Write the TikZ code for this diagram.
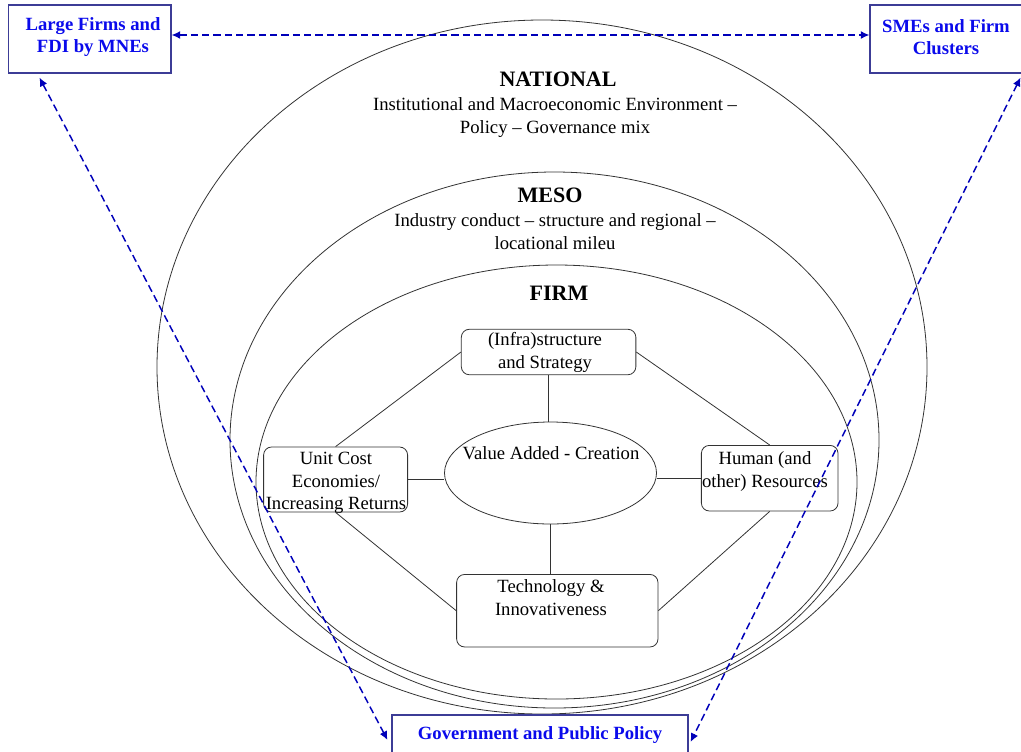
\documentclass[tikz,border=0pt]{standalone}
\usepackage{fontspec}
\setmainfont{Liberation Serif}
\usepackage{xcolor}
\usetikzlibrary{shapes.geometric,arrows.meta}

\definecolor{actorblue}{RGB}{10,10,235}
\definecolor{frameblue}{RGB}{60,60,150}
\definecolor{linkblue}{RGB}{0,0,185}

\begin{document}
\begin{tikzpicture}[x=0.75pt,y=-0.75pt,font=\fontsize{14}{16.5}\selectfont,
    level/.style={ellipse,draw=black!80,line width=0.6pt,inner sep=0pt},
    block/.style={draw=black!80,line width=0.6pt,rounded corners=6pt,align=center,inner sep=0pt},
    actor/.style={draw=frameblue,line width=0.8pt,text=actorblue,align=center,font=\fontsize{14}{16.5}\selectfont\bfseries},
    head/.style={font=\fontsize{16.5}{19}\selectfont\bfseries,inner sep=0pt},
    caption/.style={align=center,inner sep=0pt,font=\fontsize{14}{17.25}\selectfont},
    boxtxt/.style={align=center,inner sep=0pt,font=\fontsize{14}{16.75}\selectfont},
    spoke/.style={draw=black!80,line width=0.6pt},
    link/.style={linkblue,line width=1.1pt,dash pattern=on 5.5pt off 3pt,{Latex[length=6.5pt,width=6pt]}-{Latex[length=6.5pt,width=6pt]}}]

    \useasboundingbox (0,0) rectangle (1021,751);
    \clip (0,0) rectangle (1021,751);

    % The levels
	\node [level,minimum width=577.5pt,minimum height=520.5pt] at (542,367) (national) {};
	\node [level,minimum width=486.75pt,minimum height=402pt] at (554.5,440) (meso) {};
	\node [level,minimum width=450.75pt,minimum height=325.5pt] at (556.5,482) (firm) {};

	\node [head] at (558,79) (nationalhead) {NATIONAL};
	\node [caption] at (555,117.5) (nationaltxt) {Institutional and Macroeconomic Environment --\\Policy -- Governance mix};
	\node [head] at (550,195) (mesohead) {MESO};
	\node [caption] at (555,231.5) (mesotxt) {Industry conduct -- structure and regional --\\locational mileu};
	\node [head] at (559,293) (firmhead) {FIRM};

    % The firm diamond
	\node [level,minimum width=159pt,minimum height=76.5pt] at (550.5,473) (va) {};
	\node [caption] at (551,453) (vatxt) {Value Added - Creation};

	\node [block,minimum width=130.9pt,minimum height=34.1pt] at (548.6,352) (infra) {};
	\node [boxtxt] at (545,352.5) (infratxt) {(Infra)structure\\and Strategy};
	\node [block,minimum width=108pt,minimum height=48.75pt] at (335.6,479.5) (unit) {};
	\node [boxtxt] at (336,483) (unittxt) {Unit Cost\\Economies/\\Increasing Returns};
	\node [block,minimum width=102.5pt,minimum height=49.2pt] at (769.7,478.2) (human) {};
	\node [boxtxt] at (765,471.5) (humantxt) {Human (and\\other) Resources};
	\node [block,minimum width=151pt,minimum height=54.4pt] at (557.3,610.7) (tech) {};
	\node [boxtxt] at (551,597.5) (techtxt) {Technology \&\\Innovativeness};

	% Diamond edges
	\path [spoke]
	(infra.south) edge (infra.south |- va.north)
	(infra.west) edge (unit.north)
	(infra.east) edge (human.north)
	(unit.east) edge (unit.east -| va.west)
	(human.west) edge (human.west -| va.east)
	(va.south) edge (va.south |- tech.north)
	(unit.south) edge (tech.west)
	(human.south) edge (tech.east);

    % The actors
	\node [actor,minimum width=121.9pt,minimum height=51pt] at (89.75,39) (large) {};
	\node [actor,draw=none,inner sep=0pt] at (93,37) (largetxt) {Large Firms and\\FDI by MNEs};
	\node [actor,minimum width=114.75pt,minimum height=51pt] at (946.5,39) (smes) {};
	\node [actor,draw=none,inner sep=0pt] at (946,37) (smestxt) {SMEs and Firm\\Clusters};
	\node [actor,minimum width=222pt,minimum height=30pt] at (540,735) (gov) {Government and Public Policy};

	% Actor links
	\path [link]
	([yshift=3pt]large.east) edge ([yshift=3pt]smes.west)
	([shift={(31.5,4)}]large.south west) edge ([shift={(-4,5)}]gov.west)
	([shift={(-3,4)}]smes.south east) edge ([shift={(2,7)}]gov.east);

\end{tikzpicture}
\end{document}
